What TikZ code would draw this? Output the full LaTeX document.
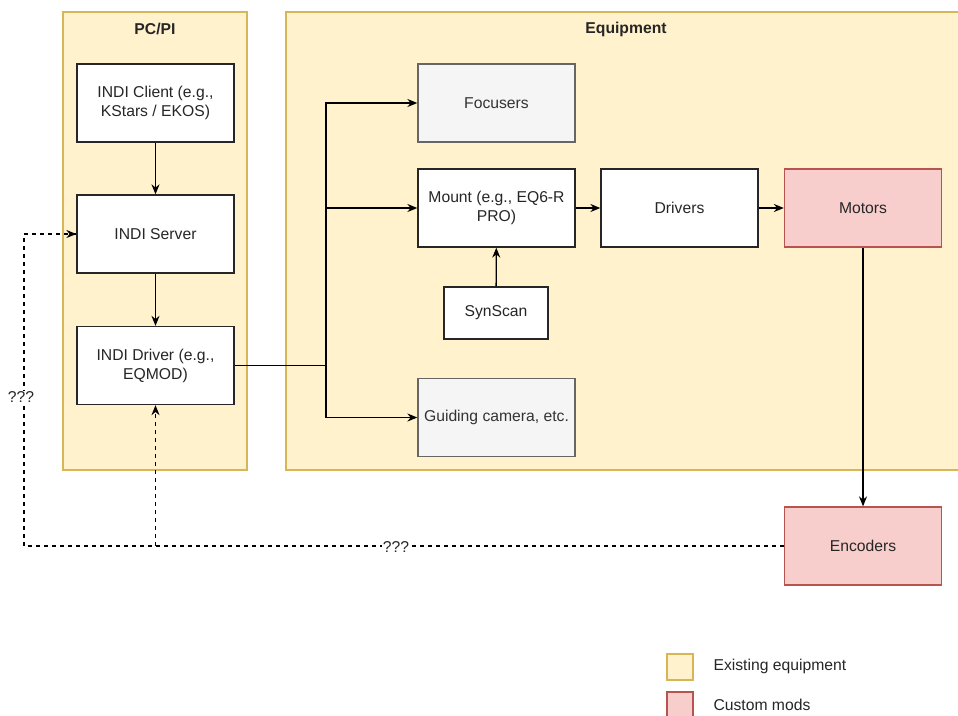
\documentclass[tikz,border=0pt]{standalone}
\usepackage{fontspec}
\setmainfont{Liberation Sans}
\usetikzlibrary{arrows.meta}
\definecolor{yfill}{HTML}{FFF2CC}
\definecolor{ystroke}{HTML}{D6B656}
\definecolor{rfill}{HTML}{F8CECC}
\definecolor{rstroke}{HTML}{B85450}
\definecolor{gfill}{HTML}{F5F5F5}
\definecolor{gstroke}{HTML}{666666}
\definecolor{gtext}{HTML}{333333}
\tikzset{
  box/.style={draw=black!85, fill=white, line width=1.3pt, minimum width=157pt, minimum height=78pt, inner sep=0pt, align=center, font=\fontsize{15.7}{19}\selectfont, text=black!85},
  graybox/.style={box, draw=gstroke, fill=gfill, text=gtext},
  redbox/.style={box, draw=rstroke, fill=rfill},
  container/.style={draw=ystroke, fill=yfill, line width=1.3pt},
  conn/.style={line width=1.3pt, -{Stealth[length=10pt,width=8pt]}},
  plain/.style={line width=1.3pt},
  dconn/.style={line width=1.2pt, dash pattern=on 4pt off 4pt},
  lbl/.style={font=\fontsize{15.7}{19}\selectfont, text=black!85, fill=white, inner sep=1pt},
  ttl/.style={font=\fontsize{15.7}{19}\selectfont\bfseries, text=black!85},
}
\begin{document}
\begin{tikzpicture}[x=1pt,y=-1pt]
\clip (0,0) rectangle (958,715);
\fill[white] (0,0) rectangle (958,715);
% containers
\draw[container] (63,12) rectangle (247,470);
\node[ttl] (pcpi) at (155,29) {PC/PI};
\draw[container] (962,12) -- (286,12) -- (286,470) -- (962,470);
\node[ttl] (equip) at (626,29) {Equipment};
% PC nodes
\node[box] (client) at (155.5,103) {INDI Client (e.g.,\\KStars / EKOS)};
\node[box] (server) at (155.5,234) {INDI Server};
\node[box] (driver) at (155.5,365.5) {INDI Driver (e.g.,\\EQMOD)};
% equipment nodes
\node[graybox] (focus) at (496.5,103) {Focusers};
\node[box] (mount) at (496.5,208) {Mount (e.g., EQ6-R\\PRO)};
\node[box] (drivers) at (679.5,208) {Drivers};
\node[redbox] (motors) at (863,208) {Motors};
\node[box, minimum width=104pt, minimum height=52pt] (synscan) at (496,313) {SynScan};
\node[graybox] (guide) at (496.5,417.5) {Guiding camera, etc.};
\node[redbox] (enc) at (863,546) {Encoders};
% connectors
\draw[conn] (client) -- (server);
\draw[conn] (server) -- (driver);
\coordinate (j) at (326,365.5);
\draw[plain] (driver.east) -- (j);
\draw[conn] (j) |- (focus.west);
\draw[conn] (j) |- (mount.west);
\draw[conn] (j) |- (guide.west);
\draw[conn] (mount) -- (drivers);
\draw[conn] (drivers) -- (motors);
\draw[conn] (synscan) -- (mount);
\draw[conn] (motors) -- (enc);
% dashed feedback
\coordinate (bl) at (24,546);
\coordinate (bm) at (155.5,546);
\draw[dconn] (enc.west) -- (bl) -- (24,234) -- (server.west);
\draw[dconn, -{Stealth[length=10pt,width=8pt]}] (24,234) -- (server.west);
\draw[dconn, -{Stealth[length=10pt,width=8pt]}] (bm) -- (driver.south);
\node[lbl] (q1) at (396,547) {???};
\node[lbl] (q2) at (21,397) {???};
% legend
\draw[container] (667,654) rectangle (693,680);
\draw[container, draw=rstroke, fill=rfill] (667,692) rectangle (693,720);
\node[anchor=west, font=\fontsize{15.7}{19}\selectfont, text=black!85] (leg1) at (710,666) {Existing equipment};
\node[anchor=west, font=\fontsize{15.7}{19}\selectfont, text=black!85] (leg2) at (710,705) {Custom mods};
\end{tikzpicture}
\end{document}
